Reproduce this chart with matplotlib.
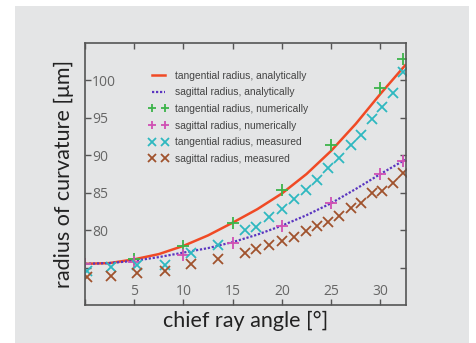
import matplotlib.pyplot as plt
from matplotlib.patches import Rectangle
from matplotlib.transforms import ScaledTranslation

# analytic curves
angle_curve = [0, 2.5, 5, 7.5, 10, 12.5, 15, 17.5, 20, 22.5, 25, 27.5, 30, 32.5]
tang_analytic = [75.5, 75.6, 76.1, 76.8, 77.9, 79.3, 81.0, 82.8, 84.9, 87.5, 90.6, 94.2, 98.2, 102.0]
sag_analytic = [75.5, 75.6, 75.9, 76.4, 77.0, 77.6, 78.4, 79.4, 80.6, 82.0, 83.6, 85.5, 87.5, 89.4]

# numerical simulation
angle_num = [0, 5, 10, 15, 20, 25, 30, 32.3]
tang_num = [75.5, 76.2, 77.9, 81.0, 85.4, 91.4, 99.0, 102.9]
sag_num = [75.5, 75.8, 76.7, 78.3, 80.5, 83.6, 87.5, 89.2]

# measurements
angle_meas = [0.17, 2.6, 5.3, 8.1, 10.8, 13.5, 16.2, 17.4, 18.7, 20.0, 21.2,
              22.4, 23.6, 24.7, 25.8, 27.0, 28.0, 29.1, 30.2, 31.3, 32.3]
tang_meas = [74.6, 75.1, 75.3, 75.4, 77.0, 78.0, 80.0, 80.4, 81.8, 82.8, 84.2,
             85.4, 86.7, 88.3, 89.7, 91.4, 92.7, 94.9, 96.4, 98.3, 101.1]
sag_meas = [73.8, 73.9, 74.3, 74.6, 75.5, 76.1, 76.9, 77.5, 78.0, 78.6, 79.1,
            79.9, 80.6, 81.1, 81.9, 83.0, 83.6, 84.9, 85.2, 86.3, 87.7]

bg = '#e4e5e6'
fig = plt.figure(figsize=(4.76, 3.43), dpi=100, facecolor='white')
fig.patches.append(Rectangle((15/476, 0), 454/476, 337/343, transform=fig.transFigure,
                             facecolor=bg, edgecolor='none', zorder=-10))

ax = fig.add_axes([85/476, 1 - 305/343, 321/476, 262/343])
ax.set_facecolor(bg)

ax.plot(angle_curve, tang_analytic, color='#f04a25', lw=1.8, label='tangential radius, analytically')
ax.plot(angle_curve, sag_analytic, color='#5a35c0', lw=1.6, ls=(0, (1, 0.8)), label='sagittal radius, analytically')
ax.plot(angle_num, tang_num, ls='none', marker='+', ms=8, mew=1.3, color='#3cb44a', label='tangential radius, numerically')
ax.plot(angle_num, sag_num, ls='none', marker='+', ms=8, mew=1.3, color='#d050b4', label='sagittal radius, numerically')
ax.plot(angle_meas, tang_meas, ls='none', marker='x', ms=7, mew=1.3, color='#2eb8c0', label='tangential radius, measured')
ax.plot(angle_meas, sag_meas, ls='none', marker='x', ms=7, mew=1.3, color='#a0522d', label='sagittal radius, measured')

ax.set_xlim(0, 32.6)
ax.set_ylim(70, 105)
ax.set_xticks([0, 5, 10, 15, 20, 25, 30])
ax.set_xticklabels(['', '5', '10', '15', '20', '25', '30'])
ax.set_yticks([75, 80, 85, 90, 95, 100])
ax.set_yticklabels(['', '80', '85', '90', '95', '100'])
ax.tick_params(direction='in', length=4, width=1, colors='#555555', labelcolor='#666666',
               labelsize=10, top=True, right=True, labelfontfamily='Open Sans')
ax.tick_params(axis='x', pad=-15)
# y tick labels sit just inside the left spine
shift = ScaledTranslation(7/100, 0, fig.dpi_scale_trans)
for tick in ax.yaxis.get_major_ticks():
    tick.label1.set_transform(ax.get_yaxis_transform(which='tick1') + shift)
    tick.label1.set_horizontalalignment('left')
for s in ax.spines.values():
    s.set_color('#555555')
    s.set_linewidth(1.2)

ax.set_xlabel('chief ray angle [°]', fontsize=15.5, color='#222222', labelpad=4, family='Lato')
ax.set_ylabel('radius of curvature [μm]', fontsize=15.5, color='#222222', labelpad=8, family='Lato')

leg = ax.legend(loc='upper left', bbox_to_anchor=(0.17, 0.93), frameon=False,
                prop={'family': 'Liberation Sans', 'size': 7.4}, markerscale=0.75,
                numpoints=2, handlelength=1.9, handletextpad=0.6, labelspacing=0.65)
for t in leg.get_texts():
    t.set_color('#444444')

fig.savefig('out.png', dpi=100, facecolor=fig.get_facecolor())
